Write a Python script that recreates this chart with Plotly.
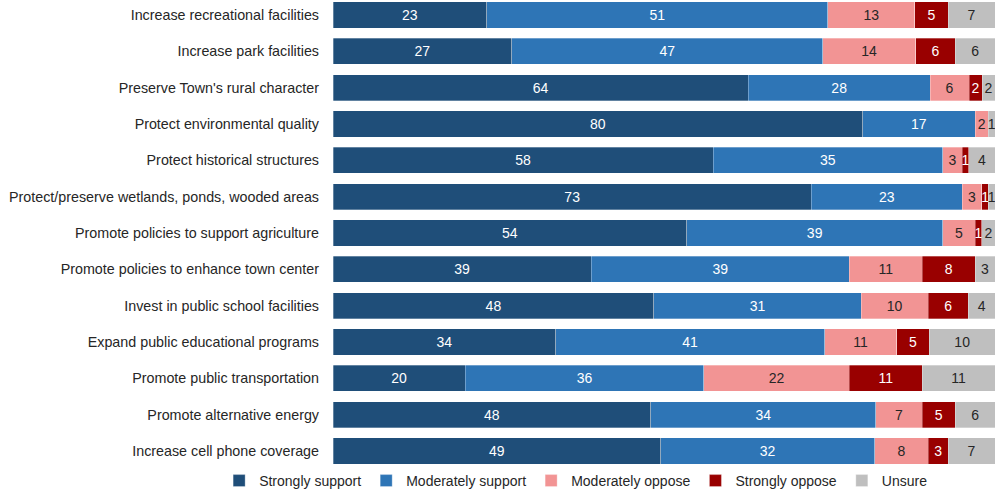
import plotly.graph_objects as go

# Kategorien und Antworten (Prozent) aus der Vorlage
categories = [
    "Increase recreational facilities",
    "Increase park facilities",
    "Preserve Town's rural character",
    "Protect environmental quality",
    "Protect historical structures",
    "Protect/preserve wetlands, ponds, wooded areas",
    "Promote policies to support agriculture",
    "Promote policies to enhance town center",
    "Invest in public school facilities",
    "Expand public educational programs",
    "Promote public transportation",
    "Promote alternative energy",
    "Increase cell phone coverage",
]
strongly_support = [23, 27, 64, 80, 58, 73, 54, 39, 48, 34, 20, 48, 49]
moderately_support = [51, 47, 28, 17, 35, 23, 39, 39, 31, 41, 36, 34, 32]
moderately_oppose = [13, 14, 6, 2, 3, 3, 5, 11, 10, 11, 22, 7, 8]
strongly_oppose = [5, 6, 2, 0, 1, 1, 1, 8, 6, 5, 11, 5, 3]
unsure = [7, 6, 2, 1, 4, 1, 2, 3, 4, 10, 11, 6, 7]

SERIES = [
    ("Strongly support", strongly_support, "#1f4e79", "white"),
    ("Moderately support", moderately_support, "#2e75b6", "white"),
    ("Moderately oppose", moderately_oppose, "#f29494", "#262626"),
    ("Strongly oppose", strongly_oppose, "#990000", "white"),
    ("Unsure", unsure, "#bfbfbf", "#262626"),
]

FONT = "Liberation Sans, Arial, sans-serif"

fig = go.Figure()
for name, vals, color, txtcolor in SERIES:
    fig.add_trace(go.Bar(
        y=categories,
        x=vals,
        name=name,
        orientation="h",
        marker=dict(color=color, line=dict(color="rgba(255,255,255,0.6)", width=0.5)),
        text=[str(v) if v else "" for v in vals],
        textposition="inside",
        insidetextanchor="middle",
        textangle=0,
        textfont=dict(color=txtcolor, size=14, family=FONT),
        hoverinfo="name+x",
    ))

fig.update_layout(
    barmode="stack",
    barnorm="percent",
    bargap=0.28,
    width=995,
    height=489,
    margin=dict(l=333, r=0, t=0, b=24, autoexpand=False),
    paper_bgcolor="white",
    plot_bgcolor="white",
    font=dict(family=FONT, size=14, color="#262626"),
    uniformtext=dict(minsize=14, mode="show"),
    showlegend=True,
    legend=dict(
        orientation="h",
        x=-0.172,
        xanchor="left",
        y=0,
        yanchor="top",
        itemwidth=30,
        bgcolor="rgba(0,0,0,0)",
        font=dict(size=14),
        traceorder="normal",
    ),
)
fig.update_xaxes(range=[0, 100], visible=False, fixedrange=True)
fig.update_yaxes(
    categoryorder="array",
    categoryarray=categories,
    range=[12.387, -0.413],
    showgrid=False,
    showline=False,
    ticks="",
    ticklabelstandoff=13,
    tickfont=dict(size=14.3, color="#262626"),
)

# Body-Rand entfernen, damit die Figur genau ins Fenster passt
fig.write_html(
    "out.html",
    config={"displayModeBar": False},
    post_script="document.body.style.margin='0';document.body.style.overflow='hidden';",
)
